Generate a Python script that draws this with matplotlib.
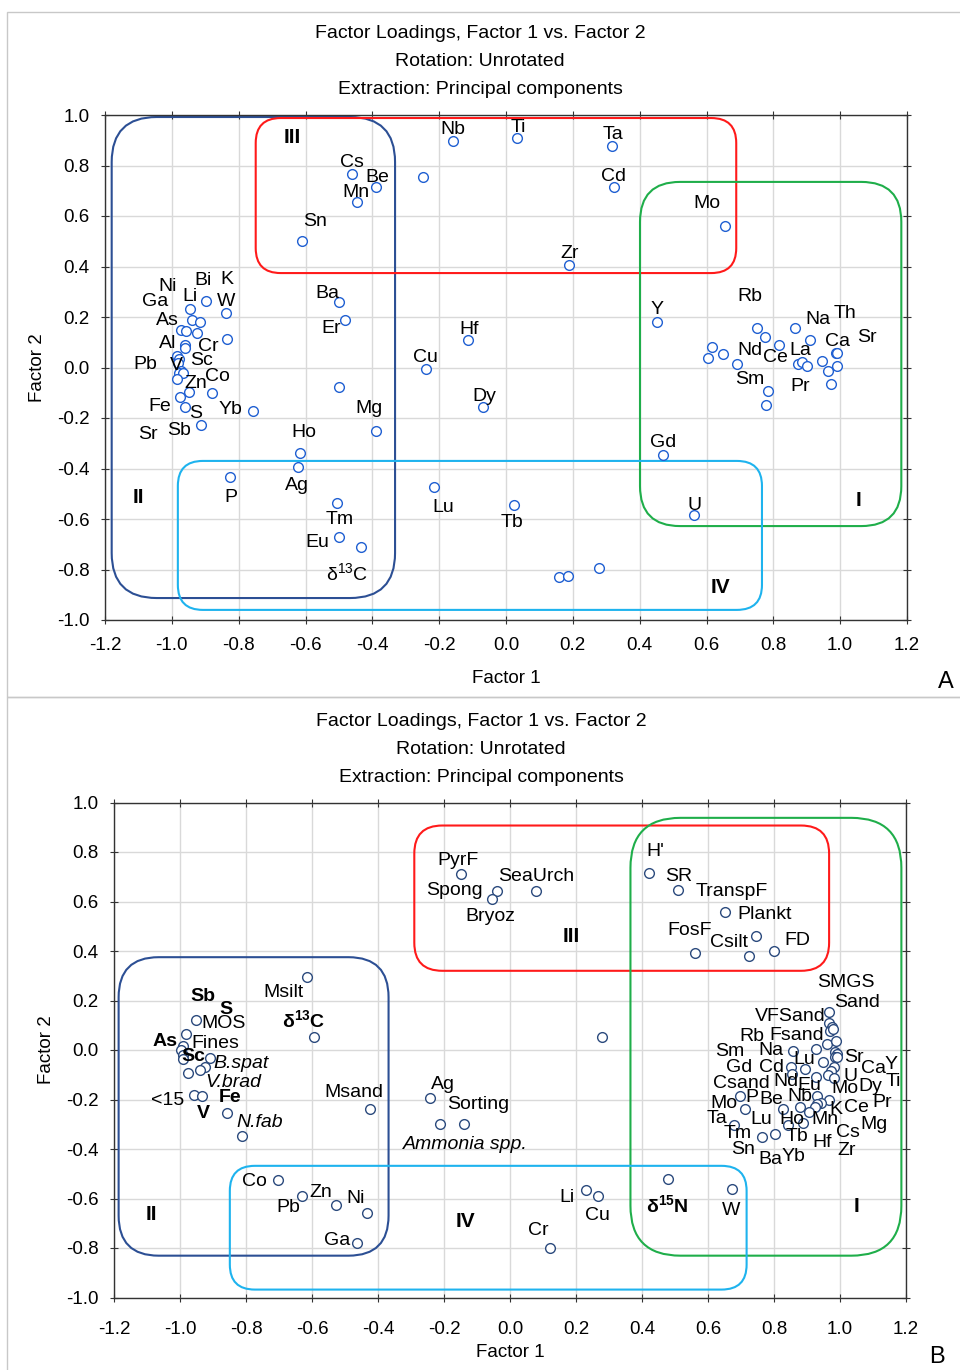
import matplotlib.pyplot as plt
from matplotlib.patches import FancyBboxPatch, Rectangle

plt.rcParams['font.family'] = ['Liberation Sans', 'DejaVu Sans']
plt.rcParams['mathtext.fontset'] = 'custom'
plt.rcParams['mathtext.rm'] = 'Liberation Sans'
plt.rcParams['mathtext.bf'] = 'Liberation Sans:bold'
plt.rcParams['mathtext.it'] = 'Liberation Sans:italic'
plt.rcParams['mathtext.default'] = 'rm'
plt.rcParams['axes.unicode_minus'] = False

# ---- Panel A: element loadings ----
a_f1 = [-0.158, 0.034, 0.317, 0.324, -0.462, -0.388, -0.447, -0.249, -0.609, 0.189, 0.656,
        -0.500, -0.482, -0.114, -0.240, -0.069, -0.500, -0.389, -0.616, -0.622, -0.826,
        -0.215, 0.024, -0.506, -0.500, -0.434, 0.160, 0.185, 0.278, 0.470, 0.563, 0.451,
        -0.898, -0.838, -0.947, -0.941, -0.916, -0.973, -0.958, -0.925, -0.836, -0.960,
        -0.961, -0.986, -0.979, -0.983, -0.973, -0.979, -0.966, -0.986, -0.949, -0.880,
        -0.975, -0.960, -0.758, -0.912,
        0.752, 0.774, 0.865, 0.909, 0.816, 0.615, 0.648, 0.604, 0.690, 0.875, 0.887,
        0.901, 0.946, 0.988, 0.992, 0.990, 0.965, 0.974, 0.783, 0.777]
a_f2 = [0.898, 0.908, 0.877, 0.714, 0.765, 0.714, 0.654, 0.756, 0.502, 0.406, 0.560,
        0.259, 0.188, 0.109, -0.006, -0.156, -0.077, -0.250, -0.337, -0.393, -0.434,
        -0.472, -0.546, -0.535, -0.670, -0.711, -0.830, -0.826, -0.794, -0.347, -0.584, 0.180,
        0.263, 0.217, 0.230, 0.188, 0.180, 0.147, 0.145, 0.138, 0.112, 0.089,
        0.076, 0.046, 0.034, 0.019, -0.014, -0.023, -0.023, -0.046, -0.098, -0.102,
        -0.118, -0.155, -0.171, -0.229,
        0.155, 0.122, 0.155, 0.107, 0.090, 0.081, 0.054, 0.038, 0.015, 0.015, 0.022,
        0.005, 0.025, 0.057, 0.059, 0.006, -0.015, -0.064, -0.095, -0.148]

a_tags = ['Nb', 'Ti', 'Ta', 'Cd', 'Cs', 'Be', 'Mn', 'Sn', 'Zr', 'Mo', 'Ba', 'Er', 'Hf',
          'Cu', 'Dy', 'Mg', 'Ho', 'Ag', 'P', 'Lu', 'Tb', 'Tm', 'Eu', 'δ$^{13}$C', 'Gd',
          'U', 'Y', 'Rb', 'Na', 'Th', 'Ca', 'Sr', 'Nd', 'Ce', 'La', 'Sm', 'Pr',
          'Bi', 'K', 'Ni', 'W', 'Ga', 'Li', 'As', 'Al', 'Cr', 'Pb', 'V', 'Sc', 'Co',
          'Zn', 'Fe', 'S', 'Yb', 'Sb', 'Sr']
a_tag_f1 = [-0.160, 0.036, 0.320, 0.323, -0.461, -0.386, -0.449, -0.572, 0.189, 0.602,
            -0.536, -0.524, -0.111, -0.240, -0.066, -0.410, -0.605, -0.626, -0.823,
            -0.189, 0.018, -0.497, -0.566, -0.476, 0.470, 0.563, 0.451, 0.731, 0.934,
            1.015, 0.993, 1.080, 0.730, 0.806, 0.880, 0.728, 0.880,
            -0.906, -0.834, -1.014, -0.839, -1.049, -0.946, -1.014, -1.014, -0.892,
            -1.079, -0.986, -0.911, -0.863, -0.929, -1.036, -0.928, -0.826, -0.979, -1.071]
a_tag_f2 = [0.941, 0.949, 0.921, 0.758, 0.810, 0.754, 0.695, 0.580, 0.450, 0.651,
            0.295, 0.156, 0.152, 0.038, -0.113, -0.164, -0.259, -0.469, -0.513,
            -0.556, -0.612, -0.600, -0.695, -0.814, -0.299, -0.545, 0.230, 0.283, 0.190,
            0.213, 0.103, 0.118, 0.067, 0.038, 0.067, -0.047, -0.075,
            0.344, 0.350, 0.320, 0.261, 0.261, 0.280, 0.185, 0.096, 0.082,
            0.013, 0.007, 0.026, -0.036, -0.063, -0.155, -0.181, -0.166, -0.248, -0.267]

# ---- Panel B: elements, grain size and biota ----
b_f1 = [-0.147, -0.038, -0.054, 0.079, 0.420, 0.508, 0.652, 0.562, 0.744, 0.723, 0.799,
        -0.616, -0.595, -0.953, -0.983, -0.992, -0.996, -0.990, -0.992, -0.908, -0.924,
        -0.940, -0.976, -0.957, -0.934, -0.859, -0.813, -0.425, -0.241, -0.213, -0.138,
        0.280, -0.702, -0.629, -0.528, -0.434, -0.465, 0.122, 0.229, 0.267, 0.479, 0.674,
        0.968, 0.968, 0.976, 0.970, 0.980, 0.962, 0.988, 0.857, 0.928, 0.985, 0.990,
        0.985, 0.992, 0.949, 0.850, 0.893, 0.981, 0.973, 0.854, 0.964, 0.981, 0.928,
        0.930, 0.696, 0.711, 0.880, 0.826, 0.966, 0.941, 0.931, 0.925, 0.907, 0.888,
        0.843, 0.679, 0.804, 0.763]
b_f2 = [0.712, 0.644, 0.609, 0.641, 0.717, 0.646, 0.559, 0.392, 0.461, 0.380, 0.402,
        0.296, 0.051, 0.120, 0.066, 0.016, 0.000, -0.020, -0.038, -0.031, -0.070,
        -0.081, -0.092, -0.181, -0.184, -0.253, -0.346, -0.239, -0.195, -0.300, -0.300,
        0.052, -0.524, -0.588, -0.628, -0.660, -0.779, -0.800, -0.566, -0.590, -0.520, -0.562,
        0.153, 0.108, 0.094, 0.075, 0.083, 0.024, 0.035, -0.003, 0.003, -0.007, -0.017,
        -0.029, -0.029, -0.048, -0.067, -0.077, -0.067, -0.083, -0.098, -0.101, -0.114, -0.110,
        -0.184, -0.185, -0.238, -0.229, -0.239, -0.204, -0.215, -0.219, -0.229, -0.249, -0.296,
        -0.302, -0.302, -0.340, -0.350]

b_tags = ['PyrF', 'Spong', 'SeaUrch', 'Bryoz', "H'", 'SR', 'TranspF', 'Plankt', 'FosF',
          'Csilt', 'FD', 'Sb', 'S', 'MOS', 'Msilt', 'δ$^{\\mathbf{13}}$C', 'As', 'Fines',
          'Sc', 'B.spat', 'V.brad', '<15', 'Fe', 'V', 'N.fab', 'Msand', 'Ag', 'Sorting',
          'Ammonia spp.', 'Co', 'Pb', 'Zn', 'Ni', 'Ga', 'Cr', 'Li', 'Cu',
          'δ$^{\\mathbf{15}}$N', 'W',
          'SMGS', 'Sand', 'VFSand', 'Rb', 'Fsand', 'Sm', 'Na', 'Lu', 'Sr', 'Gd', 'Cd',
          'Ca', 'Y', 'U', 'Csand', 'Nd', 'Eu', 'Mo', 'Dy', 'Ti', 'Mo', 'P', 'Be', 'Nb',
          'Ce', 'Pr', 'K', 'Ta', 'Lu', 'Ho', 'Mn', 'Mg', 'Tm', 'Tb', 'Cs', 'Hf', 'Sn',
          'Ba', 'Yb', 'Zr']
b_tag_f1 = [-0.159, -0.167, 0.080, -0.058, 0.441, 0.512, 0.671, 0.772, 0.545, 0.664,
            0.870, -0.930, -0.861, -0.869, -0.687, -0.627, -1.046, -0.892, -0.960,
            -0.814, -0.839, -1.036, -0.849, -0.928, -0.758, -0.472, -0.202, -0.097,
            -0.135, -0.775, -0.671, -0.575, -0.467, -0.525, 0.086, 0.172, 0.265, 0.477,
            0.670,
            1.019, 1.052, 0.850, 0.732, 0.869, 0.665, 0.791, 0.891, 1.042, 0.695, 0.791,
            1.103, 1.154, 1.031, 0.702, 0.835, 0.906, 1.016, 1.092, 1.161, 0.647, 0.732,
            0.791, 0.878, 1.050, 1.128, 0.988, 0.627, 0.760, 0.855, 0.954, 1.103, 0.691,
            0.870, 1.024, 0.947, 0.706, 0.788, 0.860, 1.021]
b_tag_f2 = [0.766, 0.645, 0.703, 0.538, 0.800, 0.703, 0.641, 0.547, 0.484, 0.434,
            0.444, 0.218, 0.164, 0.108, 0.233, 0.121, 0.033, 0.027, -0.027,
            -0.056, -0.132, -0.204, -0.192, -0.255, -0.293, -0.172, -0.141, -0.222,
            -0.383, -0.533, -0.636, -0.574, -0.598, -0.770, -0.729, -0.594, -0.669, -0.628,
            -0.649,
            0.273, 0.192, 0.134, 0.056, 0.060, -0.007, -0.003, -0.040, -0.029, -0.070, -0.070,
            -0.074, -0.060, -0.108, -0.137, -0.128, -0.145, -0.154, -0.148, -0.128, -0.218,
            -0.191, -0.199, -0.188, -0.231, -0.213, -0.242, -0.275, -0.282, -0.282, -0.279,
            -0.302, -0.336, -0.350, -0.332, -0.374, -0.403, -0.441, -0.430, -0.407]
b_bold = {'Sb', 'S', 'δ$^{\\mathbf{13}}$C', 'As', 'Sc', 'Fe', 'V', 'δ$^{\\mathbf{15}}$N'}
b_italic = {'B.spat', 'V.brad', 'N.fab', 'Ammonia spp.'}

title_lines = ['Factor Loadings, Factor 1 vs. Factor 2', 'Rotation: Unrotated',
               'Extraction: Principal components']
ticks = [-1.2, -1.0, -0.8, -0.6, -0.4, -0.2, 0.0, 0.2, 0.4, 0.6, 0.8, 1.0, 1.2]
yticks = [-1.0, -0.8, -0.6, -0.4, -0.2, 0.0, 0.2, 0.4, 0.6, 0.8, 1.0]

NAVY = '#2c4f94'
RED = '#ff1a1a'
GREEN = '#1fae4a'
CYAN = '#1eb3ee'

W, H = 960, 1370
fig = plt.figure(figsize=(W / 100, H / 100), dpi=100)


def px_axes(left, right, top, bottom):
    return fig.add_axes([left / W, 1 - bottom / H, (right - left) / W, (bottom - top) / H])


def group_box(ax, x0, x1, y0, y1, r_px, color, xs, ys):
    # rounded rectangle with circular corners in screen space
    r = r_px / xs
    box = FancyBboxPatch((x0, y0), x1 - x0, y1 - y0,
                         boxstyle='round,pad=0,rounding_size=%g' % r,
                         mutation_aspect=xs / ys, fill=False, edgecolor=color,
                         linewidth=1.5, clip_on=False, zorder=2)
    ax.add_patch(box)


def setup(ax, xpad, xlabpad):
    ax.set_xlim(-1.2, 1.2)
    ax.set_ylim(-1.0, 1.0)
    ax.set_xticks(ticks)
    ax.set_yticks(yticks)
    ax.set_xticklabels(['%.1f' % t for t in ticks])
    ax.set_yticklabels(['%.1f' % t for t in yticks])
    ax.grid(True, color='#d9d9d9', linewidth=1)
    ax.set_axisbelow(True)
    ax.tick_params(axis='x', labelsize=13.5, pad=xpad, direction='inout', length=6,
                   top=True, color='#333333')
    ax.tick_params(axis='y', labelsize=13.5, pad=8, direction='inout', length=6,
                   right=True, color='#333333')
    for s in ax.spines.values():
        s.set_color('#333333')
        s.set_linewidth(1)
    ax.set_xlabel('Factor 1', fontsize=13.5, labelpad=xlabpad)
    ax.set_ylabel('Factor 2', fontsize=13.5, labelpad=8)


# panel frames
fig.add_artist(Rectangle((7 / W, 1 - 697 / H), 1.0, 685 / H, transform=fig.transFigure,
                         fill=False, edgecolor='#c8c8c8', linewidth=1))
fig.add_artist(Rectangle((7 / W, -0.01), 1.0, 1 - 697 / H + 0.01, transform=fig.transFigure,
                         fill=False, edgecolor='#c8c8c8', linewidth=1))

# ---------- Panel A ----------
axa = px_axes(105, 907, 115, 620)
setup(axa, 9, 12)
xs_a, ys_a = 802 / 2.4, 505 / 2.0
group_box(axa, -1.180, -0.332, -0.913, 0.992, 45, NAVY, xs_a, ys_a)
group_box(axa, -0.749, 0.689, 0.374, 0.988, 25, RED, xs_a, ys_a)
group_box(axa, 0.401, 1.183, -0.628, 0.735, 40, GREEN, xs_a, ys_a)
group_box(axa, -0.982, 0.766, -0.960, -0.370, 25, CYAN, xs_a, ys_a)
axa.plot(a_f1, a_f2, 'o', markersize=7, markerfacecolor='white',
         markeredgecolor='#1f5fd2', markeredgewidth=1, zorder=4)
for t, x, y in zip(a_tags, a_tag_f1, a_tag_f2):
    axa.text(x, y, t, fontsize=14, ha='center', va='center', zorder=5)
for t, x, y in [('III', -0.641, 0.909), ('II', -1.099, -0.513),
                ('I', 1.054, -0.525), ('IV', 0.641, -0.873)]:
    axa.text(x, y, t, fontsize=15, fontweight='bold', ha='center', va='center')

# ---------- Panel B ----------
axb = px_axes(114, 906, 802.5, 1297.5)
setup(axb, 14, 4)
xs_b, ys_b = 792 / 2.4, 495 / 2.0
group_box(axb, -1.186, -0.368, -0.831, 0.375, 40, NAVY, xs_b, ys_b)
group_box(axb, -0.290, 0.967, 0.320, 0.907, 28, RED, xs_b, ys_b)
group_box(axb, 0.365, 1.186, -0.831, 0.938, 50, GREEN, xs_b, ys_b)
group_box(axb, -0.849, 0.717, -0.968, -0.468, 25, CYAN, xs_b, ys_b)
axb.plot(b_f1, b_f2, 'o', markersize=7, markerfacecolor='white',
         markeredgecolor='#2b4a7d', markeredgewidth=1, zorder=4)
for t, x, y in zip(b_tags, b_tag_f1, b_tag_f2):
    weight = 'bold' if t in b_bold else 'normal'
    style = 'italic' if t in b_italic else 'normal'
    axb.text(x, y, t, fontsize=14, ha='center', va='center', fontweight=weight,
             fontstyle=style, zorder=5)
for t, x, y in [('III', 0.186, 0.457), ('II', -1.086, -0.665),
                ('I', 1.050, -0.633), ('IV', -0.136, -0.692)]:
    axb.text(x, y, t, fontsize=15, fontweight='bold', ha='center', va='center')

# titles and panel letters
for i, line in enumerate(title_lines):
    fig.text(480 / W, 1 - (34 + 28 * i) / H, line, fontsize=14, ha='center', va='center')
    fig.text(481 / W, 1 - (722 + 27.5 * i) / H, line, fontsize=14, ha='center', va='center')
fig.text(946 / W, 1 - 682 / H, 'A', fontsize=17, ha='center', va='center')
fig.text(937 / W, 1 - 1357 / H, 'B', fontsize=17, ha='center', va='center')

fig.savefig('out.png', dpi=100)
